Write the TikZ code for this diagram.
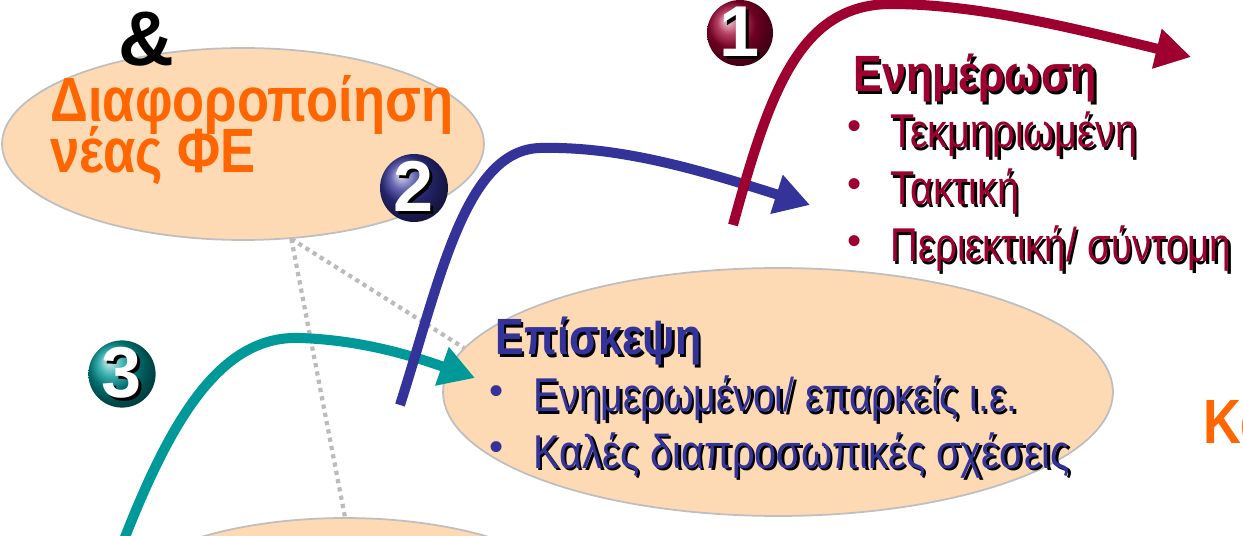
\documentclass[tikz,border=0pt]{standalone}
\usepackage{fontspec}
\setmainfont{Liberation Sans}
\usetikzlibrary{arrows.meta,shapes.geometric}
\definecolor{peach}{HTML}{FDD9B4}
\definecolor{ellline}{HTML}{BFBFBF}
\definecolor{orng}{HTML}{FF6600}
\definecolor{dred}{HTML}{9E0030}
\definecolor{dblue}{HTML}{333399}
\definecolor{tealc}{HTML}{009999}
\definecolor{dotgray}{HTML}{BBBBBB}
\newcommand\shd[2]{\makebox[0pt][l]{\hspace{1.7pt}\raisebox{-1.7pt}{\color{black}#2}}{\color{#1}#2}}
\newcommand\nx[2][0.86]{\scalebox{#1}[1]{#2}}
\tikzset{
  bubble/.style={ellipse, draw=ellline, line width=1pt, fill=peach, inner sep=0pt},
  dotline/.style={draw=dotgray, line width=2.4pt, dash pattern=on 2.4pt off 2.4pt},
  bigarrow/.style={line width=5.7pt, -{Triangle[length=20pt,width=22pt]}},
  txt/.style={inner sep=0pt, anchor=base west},
  orangetxt/.style={txt, text=orng, font=\fontsize{35.6}{38}\selectfont\bfseries},
  headtxt/.style={txt, font=\fontsize{29}{30}\selectfont\bfseries},
  itemtxt/.style={txt, font=\fontsize{27}{29}\selectfont},
  bul/.style={inner sep=0pt, anchor=center, font=\fontsize{23}{25}\selectfont},
  numball/.style={circle, minimum size=#1, inner sep=0pt, font=\fontsize{41}{41}\selectfont\bfseries},
}
\begin{document}
\begin{tikzpicture}[x=0.02cm,y=-0.02cm]
\useasboundingbox (0,0) rectangle (1243,536);
\clip (0,0) rectangle (1243,536);
\fill[white] (0,0) rectangle (1243,536);

% ellipses
\node[bubble, minimum width=9.64cm, minimum height=3.84cm] (topell) at (243,144) {};
\node[bubble, minimum width=13.4cm, minimum height=4.96cm] (midell) at (778,392) {};
\node[bubble, minimum width=9.64cm, minimum height=3.84cm] (botell) at (345,614) {};

% dotted connectors
\draw[dotline] (topell.-63) -- (botell.north);
\draw[dotline] (topell.-63) -- (midell.172);

% texts in top-left bubble
\node[txt, font=\fontsize{44}{46}\selectfont\bfseries, anchor=base] (amp) at (146,66) {\&};
\node[orangetxt] (dia1) at (50,122) {\nx[0.84]{Διαφοροποίηση}};
\node[orangetxt] (dia2) at (50,173) {\nx[0.84]{νέας ΦΕ}};

% arrows
\coordinate (t0) at (120,550);
\coordinate (t1) at (300,338);
\coordinate (t2) at (475,378);
\draw[bigarrow, tealc] (t0) .. controls (170,420) and (220,335) .. (t1) .. controls (360,340) and (410,355) .. (t2);
\coordinate (b0) at (400,405);
\coordinate (b1) at (540,148);
\coordinate (b2) at (810,205);
\draw[bigarrow, dblue] (b0) .. controls (440,280) and (465,150) .. (b1) .. controls (620,146) and (700,170) .. (b2);
\coordinate (r0) at (733,225);
\coordinate (r1) at (890,4);
\coordinate (r2) at (1191,57);
\draw[bigarrow, dred] (r0) .. controls (770,90) and (800,5) .. (r1) .. controls (980,4) and (1080,30) .. (r2);

% number balls
\node[numball=1.32cm, shading=ball, ball color=dred] (n1) at (740,33) {\shd{white}{1}};
\node[numball=1.36cm, shading=ball, ball color=dblue] (n2) at (414,188) {\shd{white}{2}};
\node[numball=1.24cm, shading=ball, ball color=tealc] (n3) at (122,374) {\shd{white}{3}};

% red block
\node[headtxt] (enh) at (853,92) {\nx[0.845]{\shd{dred}{Ενημέρωση}}};
\node[bul] (rb1) at (855,130) {\color{dred}•};
\node[itemtxt] (ri1) at (890,148) {\nx[0.835]{\shd{dred}{Τεκμηριωμένη}}};
\node[bul] (rb2) at (855,188) {\color{dred}•};
\node[itemtxt] (ri2) at (890,205) {\nx[0.835]{\shd{dred}{Τακτική}}};
\node[bul] (rb3) at (855,245) {\color{dred}•};
\node[itemtxt] (ri3) at (890,262) {\nx[0.81]{\shd{dred}{Περιεκτική/ σύντομη}}};

% blue block
\node[headtxt] (epi) at (495,355) {\nx[0.845]{\shd{dblue}{Επίσκεψη}}};
\node[bul] (bb1) at (497,395) {\color{dblue}•};
\node[itemtxt] (bi1) at (533,412) {\nx[0.825]{\shd{dblue}{Ενημερωμένοι/ επαρκείς ι.ε.}}};
\node[bul] (bb2) at (497,451) {\color{dblue}•};
\node[itemtxt] (bi2) at (533,468) {\nx[0.84]{\shd{dblue}{Καλές διαπροσωπικές σχέσεις}}};

% clipped orange word at right edge
\node[orangetxt] (ka) at (1203,443) {\nx[0.84]{Κα}};
\end{tikzpicture}
\end{document}
